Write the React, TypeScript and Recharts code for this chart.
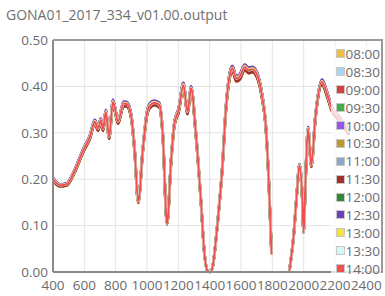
import { LineChart, Line, XAxis, YAxis, CartesianGrid, Legend } from 'recharts';

// wavelength (nm) and reflectance; null marks the water band gap
const wavelengths = [
  400, 420, 445, 487, 520, 540, 593, 635, 667, 688, 705, 720, 737, 758, 783, 815, 851, 872,
  900, 921, 944, 973, 999, 1016, 1048, 1079, 1100, 1128, 1154, 1175, 1202, 1232, 1259, 1281,
  1312, 1344, 1365, 1386, 1405, 1418, 1450, 1481, 1503, 1528, 1545, 1570, 1592, 1624, 1647,
  1672, 1704, 1735, 1757, 1778, 1795, 1850, 1909, 1937, 1958, 1973, 1990, 2000, 2011, 2028,
  2049, 2075, 2117, 2148, 2180, 2230, 2290,
];
const reflectance = [
  0.201, 0.192, 0.187, 0.189, 0.205, 0.219, 0.262, 0.291, 0.324, 0.309, 0.327, 0.309, 0.345,
  0.291, 0.367, 0.324, 0.363, 0.362, 0.334, 0.262, 0.151, 0.262, 0.34, 0.358, 0.365, 0.36,
  0.3, 0.104, 0.241, 0.32, 0.349, 0.403, 0.345, 0.396, 0.298, 0.154, 0.046, 0.003, 0.0, 0.01,
  0.104, 0.226, 0.349, 0.424, 0.439, 0.417, 0.421, 0.442, 0.435, 0.437, 0.424, 0.378, 0.32,
  0.19, 0.039, null, 0.003, 0.082, 0.176, 0.23, 0.169, 0.086, 0.19, 0.309, 0.23, 0.334, 0.41,
  0.385, 0.352, 0.33, 0.3,
];

const times = ['08:00', '08:30', '09:00', '09:30', '10:00', '10:30', '11:00', '11:30', '12:00', '12:30', '13:00', '13:30', '14:00'];
// relative level of each measurement against the 14:00 curve
const levels = [0.985, 0.99, 0.995, 0.99, 1.01, 1.005, 1.008, 0.985, 1.006, 1.012, 1.004, 1.0, 1.0];
const colors = ['#efbf3a', '#a9d6f5', '#d73e3e', '#45ad45', '#9653ef', '#c0982e', '#8aa7c6', '#a3302f', '#2f8a36', '#6f3fbd', '#f9df3c', '#d4f7f7', '#f14f4f'];

const xTicks = [400, 600, 800, 1000, 1200, 1400, 1600, 1800, 2000, 2200, 2400];
const yTicks = [0, 0.1, 0.2, 0.3, 0.4, 0.5];

const data = wavelengths.map((w, i) => {
  const row: Record<string, number | null> = { w };
  times.forEach((t, j) => {
    const v = reflectance[i];
    row[t] = v === null ? null : v * levels[j];
  });
  return row;
});

const font = '"Open Sans", sans-serif';
const tickStyle = { fontSize: 13.5, fill: '#6b6b6b', fontFamily: font };

function LegendBox() {
  return (
    <div style={{ background: 'rgba(255,255,255,0.75)', padding: '0 1px' }}>
      {times.map((t, i) => (
        <div key={t} style={{ display: 'flex', alignItems: 'center', height: 17.9, justifyContent: 'flex-end' }}>
          <span style={{ width: 7, height: 7, background: colors[i], border: '1px solid #c8c8c8', marginRight: 1 }} />
          <span style={{ fontSize: 13.5, color: '#6b6b6b', fontFamily: font, lineHeight: '14px' }}>{t}</span>
        </div>
      ))}
    </div>
  );
}

export default function App() {
  return (
    <div style={{ position: 'absolute', left: 0, top: 0, width: 385, height: 296, background: '#fff' }}>
      <div style={{ position: 'absolute', left: 6, top: 5, fontFamily: font, fontSize: 14, color: '#707070' }}>
        GONA01_2017_334_v01.00.output
      </div>
      <LineChart width={385} height={296} data={data} margin={{ top: 40, right: 3, bottom: 4, left: 8 }}>
        <CartesianGrid stroke="#e4e4e4" />
        <XAxis
          dataKey="w"
          type="number"
          domain={[400, 2500]}
          ticks={xTicks}
          interval={0}
          height={20}
          tickLine={false}
          tick={tickStyle}
          axisLine={{ stroke: '#8a8a8a', strokeWidth: 2 }}
        />
        <YAxis
          domain={[0, 0.5]}
          ticks={yTicks}
          width={45}
          tickLine={false}
          tickSize={3}
          tick={tickStyle}
          tickFormatter={(v: number) => v.toFixed(2)}
          axisLine={{ stroke: '#8a8a8a', strokeWidth: 2 }}
        />
        {times.map((t, i) => (
          <Line
            key={t}
            dataKey={t}
            stroke={colors[i]}
            strokeWidth={i === times.length - 1 ? 2 : 2.6}
            dot={false}
            type="monotone"
            isAnimationActive={false}
          />
        ))}
        <Legend
          layout="horizontal"
          verticalAlign="middle"
          align="center"
          content={() => <LegendBox />}
          wrapperStyle={{ position: 'absolute', left: 331, top: 45, width: 50 }}
        />
      </LineChart>
      <div
        style={{
          position: 'absolute',
          left: 53,
          top: 39,
          width: 328,
          height: 232,
          borderTop: '2px solid #9a9a9a',
          borderRight: '2px solid #9a9a9a',
          pointerEvents: 'none',
        }}
      />
    </div>
  );
}
